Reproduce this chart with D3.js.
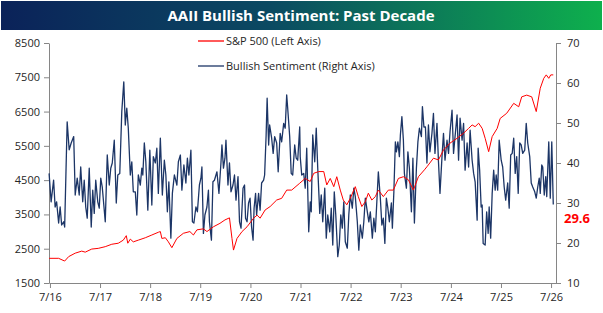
<!DOCTYPE html>
<html>
<head>
<meta charset="utf-8">
<script src="https://cdn.jsdelivr.net/npm/d3@7"></script>
<style>
	body { margin: 0; background: #fff; }
	svg { display: block; }
	.axis path, .axis line { stroke: #868686; }
	.axis text { font-family: "Open Sans", sans-serif; font-size: 11px; fill: #262626; }
	.legend text { font-family: "Open Sans", sans-serif; font-size: 11px; fill: #262626; }
</style>
</head>
<body>
<svg id="chart" width="603" height="313"></svg>
<script>

var title = "AAII Bullish Sentiment: Past Decade";
var spLabel = "S&P 500 (Left Axis)";
var sentLabel = "Bullish Sentiment (Right Axis)";

// S&P 500 level (left axis), time as decimal year
var spYear = [2016.48, 2016.67, 2016.79, 2016.87, 2017.00, 2017.13, 2017.20, 2017.33, 2017.46, 2017.60, 2017.73, 2017.86, 2017.96,
	2018.02, 2018.05, 2018.10, 2018.16, 2018.26, 2018.40, 2018.53, 2018.66, 2018.70, 2018.73, 2018.80, 2018.86, 2018.93,
	2019.03, 2019.16, 2019.29, 2019.36, 2019.43, 2019.56, 2019.63, 2019.76, 2019.89, 2019.99,
	2020.08, 2020.13, 2020.16, 2020.23, 2020.33, 2020.43, 2020.56, 2020.63, 2020.69, 2020.79, 2020.89,
	2021.02, 2021.12, 2021.22, 2021.32, 2021.48, 2021.59, 2021.69, 2021.76, 2021.86, 2021.96,
	2022.02, 2022.09, 2022.16, 2022.22, 2022.29, 2022.35, 2022.42, 2022.49, 2022.59, 2022.65, 2022.72, 2022.79, 2022.85, 2022.92, 2022.99,
	2023.05, 2023.15, 2023.25, 2023.35, 2023.45, 2023.55, 2023.65, 2023.75, 2023.85, 2023.97,
	2024.02, 2024.15, 2024.25, 2024.35, 2024.48, 2024.62, 2024.75, 2024.85, 2024.92, 2024.98,
	2025.05, 2025.12, 2025.18, 2025.25, 2025.32, 2025.42, 2025.48, 2025.61, 2025.75, 2025.85, 2025.91,
	2026.01, 2026.11, 2026.20, 2026.28, 2026.35, 2026.40, 2026.45, 2026.49, 2026.54];
var spValue = [2220, 2220, 2140, 2270, 2370, 2430, 2400, 2490, 2510, 2560, 2630, 2660, 2750,
	2880, 2660, 2780, 2700, 2750, 2820, 2900, 2980, 3000, 2800, 2820, 2700, 2530,
	2800, 2950, 3000, 2900, 3050, 3080, 3000, 3140, 3240, 3340,
	3400, 2800, 2460, 2800, 3000, 3140, 3390, 3480, 3390, 3630, 3730,
	3920, 3970, 4210, 4210, 4410, 4550, 4460, 4700, 4750, 4750,
	4360, 4550, 4310, 4600, 4210, 3920, 3780, 3970, 4310, 4020, 3730, 3870, 4120, 3920, 4020,
	4210, 4020, 4210, 4210, 4550, 4600, 4510, 4210, 4600, 4800,
	4890, 5140, 5090, 5380, 5580, 5720, 5870, 6010, 6110, 6060,
	6160, 6010, 5720, 5330, 5770, 6010, 6300, 6450, 6740, 6640, 6930,
	6980, 6930, 6500, 7180, 7470, 7570, 7470, 7570, 7570];

// AAII bullish % (right axis), time as decimal year
var sentYear = [2016.48, 2016.52, 2016.57, 2016.60, 2016.63, 2016.67, 2016.70, 2016.73, 2016.77, 2016.79, 2016.84, 2016.88, 2016.92, 2016.97,
	2017.00, 2017.04, 2017.08, 2017.11, 2017.15, 2017.18, 2017.21, 2017.24, 2017.28, 2017.32, 2017.35, 2017.38, 2017.41, 2017.45, 2017.48,
	2017.51, 2017.54, 2017.60, 2017.64, 2017.68, 2017.71, 2017.74, 2017.78, 2017.82, 2017.85, 2017.89, 2017.93, 2017.97,
	2018.00, 2018.03, 2018.06, 2018.10, 2018.13, 2018.16, 2018.20, 2018.23, 2018.26, 2018.30, 2018.33, 2018.35, 2018.38, 2018.41, 2018.45,
	2018.49, 2018.53, 2018.56, 2018.60, 2018.63, 2018.66, 2018.70, 2018.74, 2018.78, 2018.81, 2018.84, 2018.87, 2018.91, 2018.94, 2018.98,
	2019.03, 2019.06, 2019.10, 2019.13, 2019.17, 2019.21, 2019.24, 2019.27, 2019.31, 2019.34, 2019.37, 2019.41, 2019.44, 2019.48,
	2019.51, 2019.53, 2019.56, 2019.59, 2019.63, 2019.66, 2019.68, 2019.72, 2019.75, 2019.78, 2019.83, 2019.87, 2019.91, 2019.93, 2019.96, 2019.99,
	2020.01, 2020.05, 2020.08, 2020.11, 2020.15, 2020.18, 2020.21, 2020.25, 2020.28, 2020.31, 2020.35, 2020.38, 2020.40, 2020.43, 2020.46, 2020.49,
	2020.52, 2020.55, 2020.57, 2020.60, 2020.62, 2020.66, 2020.69, 2020.72, 2020.76, 2020.78, 2020.81, 2020.83, 2020.86, 2020.88, 2020.92, 2020.95, 2020.98,
	2021.02, 2021.05, 2021.09, 2021.12, 2021.16, 2021.19, 2021.22, 2021.24, 2021.28, 2021.31, 2021.34, 2021.38, 2021.41, 2021.44, 2021.48,
	2021.49, 2021.52, 2021.56, 2021.59, 2021.62, 2021.66, 2021.69, 2021.71, 2021.74, 2021.78, 2021.81, 2021.84, 2021.88, 2021.91, 2021.94, 2021.98,
	2022.01, 2022.04, 2022.08, 2022.11, 2022.14, 2022.17, 2022.20, 2022.24, 2022.27, 2022.30, 2022.33, 2022.36, 2022.39, 2022.43, 2022.46, 2022.49,
	2022.53, 2022.56, 2022.59, 2022.63, 2022.66, 2022.69, 2022.73, 2022.76, 2022.79, 2022.83, 2022.86, 2022.89, 2022.93, 2022.96, 2022.99,
	2023.02, 2023.05, 2023.09, 2023.12, 2023.15, 2023.18, 2023.21, 2023.24, 2023.27, 2023.31, 2023.33, 2023.36, 2023.39, 2023.41, 2023.44, 2023.47, 2023.49,
	2023.52, 2023.55, 2023.57, 2023.61, 2023.64, 2023.67, 2023.71, 2023.74, 2023.77, 2023.81, 2023.84, 2023.87, 2023.91, 2023.93, 2023.96, 2023.99,
	2024.02, 2024.05, 2024.08, 2024.12, 2024.15, 2024.18, 2024.22, 2024.25, 2024.28, 2024.32, 2024.35, 2024.38, 2024.42, 2024.45, 2024.48,
	2024.52, 2024.55, 2024.58, 2024.62, 2024.65, 2024.68, 2024.72, 2024.75, 2024.78, 2024.82, 2024.85, 2024.88, 2024.92, 2024.95, 2024.98,
	2025.02, 2025.04, 2025.07, 2025.10, 2025.12, 2025.14, 2025.18, 2025.21, 2025.24, 2025.26, 2025.29, 2025.32, 2025.35, 2025.38, 2025.40, 2025.43, 2025.46,
	2025.50, 2025.53, 2025.56, 2025.59, 2025.63, 2025.66, 2025.69, 2025.72, 2025.75, 2025.78, 2025.81, 2025.84, 2025.87, 2025.90, 2025.93, 2025.97,
	2026.00, 2026.03, 2026.07, 2026.10, 2026.13, 2026.17, 2026.20, 2026.23, 2026.26, 2026.28, 2026.31, 2026.33, 2026.36, 2026.39, 2026.41, 2026.45, 2026.48, 2026.51, 2026.54];
var sentValue = [37.4, 30.3, 35.7, 29.0, 30.3, 25.0, 29.0, 24.5, 25.3, 24.0, 50.3, 43.3, 45.0, 46.6,
	32.0, 36.2, 32.0, 39.0, 30.3, 35.7, 29.0, 26.2, 38.7, 24.0, 33.2, 27.4, 35.7, 30.3, 28.7,
	36.2, 34.0, 25.3, 42.0, 34.5, 38.7, 40.0, 45.7, 30.0, 37.0, 37.4, 52.8, 60.3,
	49.5, 53.7, 48.7, 37.0, 40.3, 32.8, 32.8, 27.0, 37.0, 34.5, 38.7, 37.0, 45.0, 40.3, 28.2,
	43.2, 29.5, 41.6, 40.0, 43.7, 32.4, 46.2, 32.0, 40.7, 37.0, 27.8, 35.3, 21.2, 32.4, 37.0,
	34.5, 40.3, 42.0, 33.2, 39.5, 35.0, 41.2, 37.0, 43.2, 25.3, 25.0, 29.0, 27.8, 34.5,
	36.2, 39.0, 22.4, 27.0, 29.0, 33.2, 25.3, 20.7, 35.3, 35.7, 37.8, 32.4, 40.0, 44.5, 38.7, 41.2,
	45.7, 34.5, 40.0, 32.8, 34.5, 37.0, 30.7, 36.6, 25.3, 23.7, 33.7, 34.5, 26.2, 25.3, 30.0, 31.2,
	24.0, 20.7, 28.7, 32.4, 27.0, 32.4, 28.2, 35.0, 35.7, 37.0, 47.0, 56.2, 44.5, 49.5, 46.2, 42.4, 46.6,
	45.0, 37.8, 47.4, 45.3, 49.9, 48.7, 57.0, 53.7, 46.6, 37.4, 37.0, 44.5, 41.2, 40.7, 49.0,
	41.6, 37.0, 37.4, 33.7, 43.7, 22.8, 30.3, 27.8, 47.0, 40.3, 48.7, 38.7, 27.4, 32.0, 25.3, 33.7,
	21.2, 27.0, 22.8, 28.7, 19.5, 32.8, 27.0, 16.6, 19.5, 27.0, 23.7, 30.3, 20.3, 18.7, 27.0, 32.0,
	28.7, 33.7, 31.6, 25.3, 18.2, 24.5, 21.2, 25.3, 31.2, 27.8, 25.3, 27.8, 21.2, 26.2, 22.8,
	30.3, 37.8, 31.2, 24.5, 26.2, 19.9, 31.2, 28.7, 25.3, 30.0, 23.7, 32.8, 45.3, 42.8, 45.3, 41.6, 47.0,
	51.6, 45.7, 37.4, 33.7, 42.8, 38.7, 27.8, 41.2, 25.0, 38.7, 45.3, 48.7, 46.6, 54.1, 49.0, 49.0,
	40.0, 49.5, 42.8, 47.4, 52.4, 42.4, 49.9, 40.3, 32.4, 41.6, 47.4, 40.7, 45.7, 42.4, 47.8,
	53.2, 42.4, 46.6, 52.0, 40.7, 51.2, 45.7, 49.9, 38.2, 45.0, 39.0, 48.2, 40.7, 37.4, 35.3,
	25.7, 43.7, 38.2, 29.0, 29.5, 19.9, 19.5, 27.8, 22.4, 29.0, 21.2, 32.4, 38.2, 33.2, 37.0, 33.2, 45.7,
	40.7, 39.0, 34.0, 30.7, 35.0, 28.7, 42.0, 42.4, 46.2, 37.4, 41.6, 32.4, 45.0, 44.5, 42.4, 43.2,
	49.9, 45.0, 41.6, 35.0, 34.0, 32.8, 31.2, 34.0, 36.2, 32.4, 39.5, 39.0, 32.0, 36.6, 31.6, 45.3, 31.2, 45.3, 29.6];

var leftTicks = [1500, 2500, 3500, 4500, 5500, 6500, 7500, 8500];
var rightTicks = [10, 20, 30, 40, 50, 60, 70];
var xTickYears = [2016, 2017, 2018, 2019, 2020, 2021, 2022, 2023, 2024, 2025, 2026];

function yearToDate(t) {
	var y = Math.floor(t);
	var start = new Date(y, 0, 1), end = new Date(y + 1, 0, 1);
	return new Date(+start + (t - y) * (end - start));
}

var spData = spYear.map(function(t, i) { return {date: yearToDate(t), value: spValue[i]}; });
var sentData = sentYear.map(function(t, i) { return {date: yearToDate(t), value: sentValue[i]}; });

var svg = d3.select("#chart");

var plot = {left: 49, right: 556, top: 43, bottom: 283};

var x = d3.scaleTime()
	.domain([new Date(2016, 5, 24), new Date(2026, 7, 6)])
	.range([plot.left, plot.right]);
var yL = d3.scaleLinear().domain([1500, 8500]).range([plot.bottom, plot.top]);
var yR = d3.scaleLinear().domain([10, 70]).range([plot.bottom, plot.top]);

// title bar
var grad = svg.append("defs").append("linearGradient")
	.attr("id", "titleGrad")
	.attr("x1", "0%").attr("x2", "100%");
grad.append("stop").attr("offset", "0%").attr("stop-color", "#0b2259");
grad.append("stop").attr("offset", "45%").attr("stop-color", "#0b4a62");
grad.append("stop").attr("offset", "100%").attr("stop-color", "#0eb04d");

svg.append("rect")
	.attr("x", 1).attr("y", 1)
	.attr("width", 601).attr("height", 29)
	.attr("fill", "url(#titleGrad)");

svg.append("text")
	.attr("x", 301).attr("y", 21)
	.attr("text-anchor", "middle")
	.style("font-family", "'Open Sans', sans-serif")
	.style("font-size", "15px")
	.style("font-weight", "bold")
	.attr("fill", "#fff")
	.text(title);

// axes
svg.append("g")
	.attr("class", "axis")
	.attr("transform", "translate(" + plot.left + ",0)")
	.call(d3.axisLeft(yL).tickValues(leftTicks).tickSize(5).tickSizeOuter(0).tickPadding(4).tickFormat(d3.format("d")));

svg.append("g")
	.attr("class", "axis")
	.attr("transform", "translate(" + plot.right + ",0)")
	.call(d3.axisRight(yR).tickValues(rightTicks).tickSize(5).tickSizeOuter(0).tickPadding(6));

svg.append("g")
	.attr("class", "axis")
	.attr("transform", "translate(0," + plot.bottom + ")")
	.call(d3.axisBottom(x)
		.tickValues(xTickYears.map(function(y) { return new Date(y, 6, 1); }))
		.tickSize(5).tickSizeOuter(0).tickPadding(5)
		.tickFormat(d3.timeFormat("%-m/%y")));

// lines
var spLine = d3.line()
	.x(function(d) { return x(d.date); })
	.y(function(d) { return yL(d.value); });
var sentLine = d3.line()
	.x(function(d) { return x(d.date); })
	.y(function(d) { return yR(d.value); });

svg.append("path")
	.datum(sentData)
	.attr("fill", "none")
	.attr("stroke", "#1c3566")
	.attr("stroke-width", 1.3)
	.attr("stroke-linejoin", "round")
	.attr("d", sentLine);

svg.append("path")
	.datum(spData)
	.attr("fill", "none")
	.attr("stroke", "#ff0000")
	.attr("stroke-width", 1)
	.attr("stroke-linejoin", "round")
	.attr("d", spLine);

// latest value label
var last = sentData[sentData.length - 1];
svg.append("text")
	.attr("x", plot.right + 8)
	.attr("y", yR(last.value) + 18)
	.style("font-family", "'Open Sans', sans-serif")
	.style("font-size", "13px")
	.style("font-weight", "bold")
	.attr("fill", "#ff0000")
	.text(d3.format(".1f")(last.value));

// legend
var legend = svg.append("g").attr("class", "legend");
var items = [{label: spLabel, color: "#ff0000"}, {label: sentLabel, color: "#1c3566"}];
items.forEach(function(d, i) {
	var ly = 41 + i * 25;
	legend.append("line")
		.attr("x1", 198).attr("x2", 224)
		.attr("y1", ly).attr("y2", ly)
		.attr("stroke", d.color)
		.attr("stroke-width", 1.3);
	legend.append("text")
		.attr("x", 226).attr("y", ly + 4)
		.text(d.label);
});

</script>
</body>
</html>
